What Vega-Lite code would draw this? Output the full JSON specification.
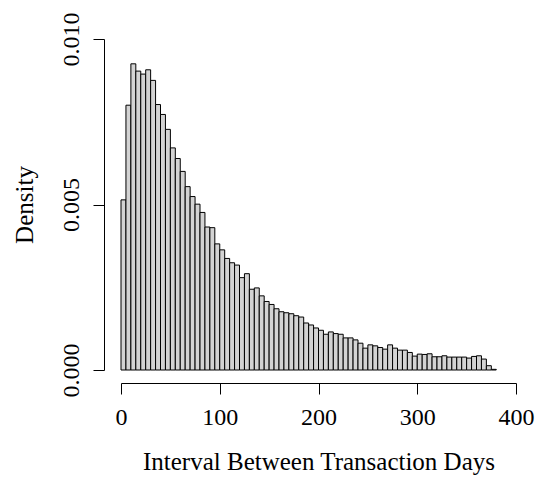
{
  "$schema": "https://vega.github.io/schema/vega-lite/v6.json",
  "width": 395,
  "height": 331,
  "autosize": {"type": "none"},
  "padding": {"left": 121, "top": 39, "right": 24, "bottom": 109},
  "background": "white",
  "config": {
    "view": {"stroke": null},
    "font": "Liberation Serif",
    "axis": {"grid": false, "domainColor": "black", "tickColor": "black", "labelColor": "black", "titleColor": "black", "labelFont": "Liberation Serif", "titleFont": "Liberation Serif", "titleFontWeight": "normal", "labelFontSize": 24, "titleFontSize": 25, "tickSize": 11, "domainWidth": 1, "tickWidth": 1}
  },
  "data": {"values": [
    {"start": 0, "density": 0.00514},
    {"start": 5, "density": 0.0080},
    {"start": 10, "density": 0.00925},
    {"start": 15, "density": 0.00903},
    {"start": 20, "density": 0.00894},
    {"start": 25, "density": 0.00907},
    {"start": 30, "density": 0.00875},
    {"start": 35, "density": 0.00802},
    {"start": 40, "density": 0.00772},
    {"start": 45, "density": 0.00727},
    {"start": 50, "density": 0.00671},
    {"start": 55, "density": 0.00639},
    {"start": 60, "density": 0.0060},
    {"start": 65, "density": 0.00554},
    {"start": 70, "density": 0.00524},
    {"start": 75, "density": 0.00501},
    {"start": 80, "density": 0.00476},
    {"start": 85, "density": 0.00432},
    {"start": 90, "density": 0.0043},
    {"start": 95, "density": 0.00381},
    {"start": 100, "density": 0.00363},
    {"start": 105, "density": 0.00337},
    {"start": 110, "density": 0.00324},
    {"start": 115, "density": 0.00317},
    {"start": 120, "density": 0.00279},
    {"start": 125, "density": 0.00291},
    {"start": 130, "density": 0.00244},
    {"start": 135, "density": 0.00248},
    {"start": 140, "density": 0.00224},
    {"start": 145, "density": 0.00207},
    {"start": 150, "density": 0.00198},
    {"start": 155, "density": 0.00185},
    {"start": 160, "density": 0.00176},
    {"start": 165, "density": 0.00173},
    {"start": 170, "density": 0.0017},
    {"start": 175, "density": 0.00164},
    {"start": 180, "density": 0.0016},
    {"start": 185, "density": 0.00142},
    {"start": 190, "density": 0.00136},
    {"start": 195, "density": 0.00127},
    {"start": 200, "density": 0.0012},
    {"start": 205, "density": 0.00108},
    {"start": 210, "density": 0.00115},
    {"start": 215, "density": 0.0011},
    {"start": 220, "density": 0.00108},
    {"start": 225, "density": 0.00097},
    {"start": 230, "density": 0.00097},
    {"start": 235, "density": 0.00091},
    {"start": 240, "density": 0.00081},
    {"start": 245, "density": 0.00066},
    {"start": 250, "density": 0.00076},
    {"start": 255, "density": 0.00073},
    {"start": 260, "density": 0.00068},
    {"start": 265, "density": 0.00063},
    {"start": 270, "density": 0.00076},
    {"start": 275, "density": 0.00066},
    {"start": 280, "density": 0.0006},
    {"start": 285, "density": 0.0006},
    {"start": 290, "density": 0.00053},
    {"start": 295, "density": 0.00042},
    {"start": 300, "density": 0.00048},
    {"start": 305, "density": 0.00047},
    {"start": 310, "density": 0.00049},
    {"start": 315, "density": 0.0004},
    {"start": 320, "density": 0.0004},
    {"start": 325, "density": 0.00043},
    {"start": 330, "density": 0.00039},
    {"start": 335, "density": 0.00039},
    {"start": 340, "density": 0.00039},
    {"start": 345, "density": 0.00039},
    {"start": 350, "density": 0.00036},
    {"start": 355, "density": 0.00041},
    {"start": 360, "density": 0.00043},
    {"start": 365, "density": 0.00033},
    {"start": 370, "density": 0.00013},
    {"start": 375, "density": 0.00002}
  ]},
  "transform": [{"calculate": "datum.start + 5", "as": "end"}],
  "mark": {"type": "bar", "fill": "#d3d3d3", "stroke": "black", "strokeWidth": 1},
  "encoding": {
    "x": {"field": "start", "type": "quantitative", "scale": {"domain": [0, 400], "nice": false, "zero": false, "padding": 0},
      "axis": {"values": [0, 100, 200, 300, 400], "offset": 13, "labelPadding": 11, "title": "Interval Between Transaction Days", "titlePadding": 20, "labelFlush": false}},
    "x2": {"field": "end"},
    "y": {"field": "density", "type": "quantitative", "scale": {"domain": [0, 0.01], "nice": false, "padding": 0},
      "axis": {"values": [0, 0.005, 0.01], "format": ".3f", "offset": 17, "labelAngle": -90, "labelAlign": "center", "labelBaseline": "alphabetic", "labelPadding": 15, "title": "Density", "titlePadding": 22, "labelFlush": false}},
    "y2": {"datum": 0}
  }
}
